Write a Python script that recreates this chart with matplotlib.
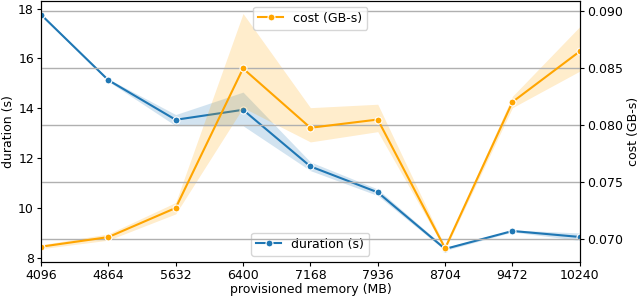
import matplotlib
matplotlib.use('Agg')
import matplotlib.pyplot as plt

# provisioned memory (MB)
memory = [4096, 4864, 5632, 6400, 7168, 7936, 8704, 9472, 10240]

# duration (s) mean and band
duration = [17.76, 15.13, 13.54, 13.94, 11.67, 10.63, 8.36, 9.08, 8.84]
duration_lo = [17.72, 15.08, 13.30, 13.30, 11.50, 10.50, 8.30, 9.04, 8.70]
duration_hi = [17.80, 15.18, 13.75, 14.65, 11.85, 10.76, 8.42, 9.12, 9.00]

# cost (GB-s) mean and band
cost = [0.06933, 0.07017, 0.07272, 0.08493, 0.07974, 0.08046, 0.06919, 0.0820, 0.08643]
cost_lo = [0.06915, 0.06990, 0.07220, 0.08150, 0.07850, 0.07940, 0.06905, 0.08150, 0.08470]
cost_hi = [0.06950, 0.07045, 0.07320, 0.08974, 0.08150, 0.08180, 0.06935, 0.08250, 0.08860]

fig = plt.figure(figsize=(6.4, 3.0), dpi=100)
ax = fig.add_axes([0.064, 0.127, 0.842, 0.871])
ax2 = ax.twinx()

blue = '#1f77b4'
orange = 'orange'

ax.fill_between(memory, duration_lo, duration_hi, color=blue, alpha=0.2, lw=0)
ax.plot(memory, duration, color=blue, marker='o', ms=5, mec='white', mew=0.8,
        lw=1.5, label='duration (s)')

ax2.fill_between(memory, cost_lo, cost_hi, color=orange, alpha=0.2, lw=0)
ax2.plot(memory, cost, color=orange, marker='o', ms=5, mec='white', mew=0.8,
         lw=1.5, label='cost (GB-s)')

ax.set_xlim(4096, 10240)
ax.set_xticks(memory)
ax.set_ylim(7.84, 18.32)
ax.set_yticks([8, 10, 12, 14, 16, 18])
ax2.set_ylim(0.0680, 0.09087)
ax2.set_yticks([0.070, 0.075, 0.080, 0.085, 0.090])
ax2.yaxis.set_major_formatter(matplotlib.ticker.FormatStrFormatter('%.3f'))
ax2.grid(axis='y', color='#b0b0b0', lw=1)

ax.set_xlabel('provisioned memory (MB)', fontsize=9, labelpad=1)
ax.set_ylabel('duration (s)', fontsize=9, labelpad=2)
ax2.set_ylabel('cost (GB-s)', fontsize=9, labelpad=3)
ax.tick_params(labelsize=9, length=3, pad=2)
ax2.tick_params(labelsize=9, length=3, pad=2)

ax2.legend(loc='upper center', fontsize=9)
ax.legend(loc='lower center', fontsize=9)

fig.savefig('out.png', dpi=100)
